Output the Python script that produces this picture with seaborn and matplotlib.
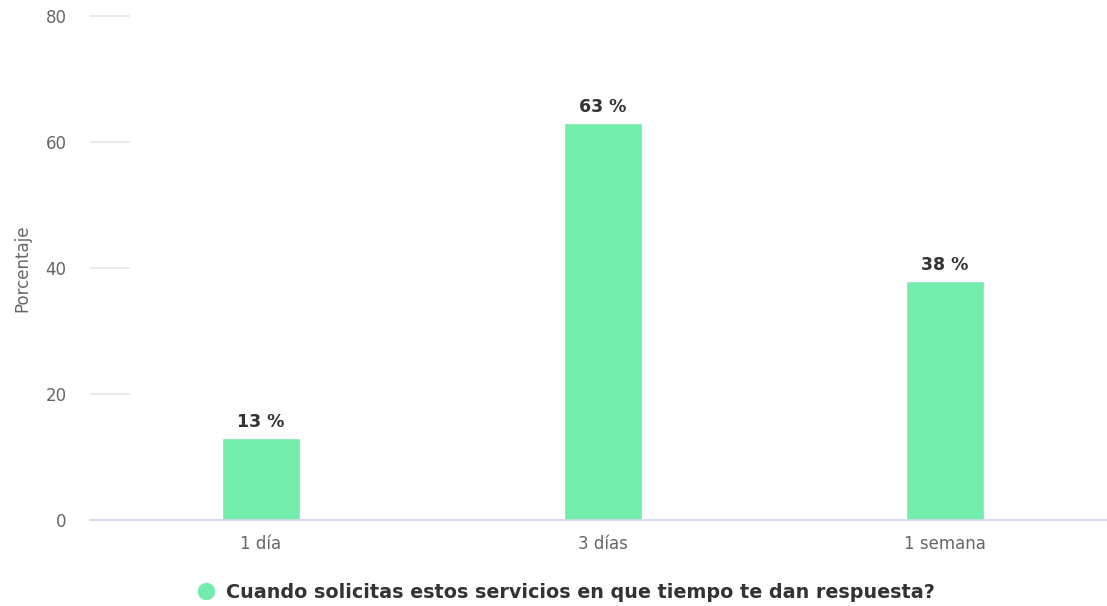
import matplotlib
matplotlib.use("Agg")
import matplotlib.pyplot as plt
from matplotlib.lines import Line2D
import seaborn as sns
import pandas as pd

categories = ["1 día", "3 días", "1 semana"]
percentages = [13, 63, 38]
y_ticks = [0, 20, 40, 60, 80]
series_name = "Cuando solicitas estos servicios en que tiempo te dan respuesta?"

BAR_COLOR = "#72EDAB"

sns.set_theme(style="white")
plt.rcParams["font.family"] = ["DejaVu Sans"]

W, H = 1107, 606
fig = plt.figure(figsize=(W / 100, H / 100), dpi=100)
left, right, bottom, top = 90, 1107, 520, 16
ax = fig.add_axes([left / W, 1 - bottom / H, (right - left) / W, (bottom - top) / H])

df = pd.DataFrame({"cat": categories, "pct": percentages})
sns.barplot(data=df, x="cat", y="pct", color=BAR_COLOR, saturation=1,
            width=0.228, ax=ax, errorbar=None)

ax.set_ylim(0, 80)
ax.set_xlim(-0.5, 2.5 - 9 / 342)
ax.set_yticks(y_ticks)

# short grid stubs beside the value axis
ax.hlines(y_ticks[1:], 0, 40 / (right - left), transform=ax.get_yaxis_transform(),
          color="#e6e6e6", lw=1.2, clip_on=False)

for s in ["top", "right", "left"]:
    ax.spines[s].set_visible(False)
ax.spines["bottom"].set_color("#ccd6eb")
ax.spines["bottom"].set_linewidth(1.2)

ax.tick_params(axis="y", length=0, pad=17, labelsize=12, labelcolor="#666666")
ax.tick_params(axis="x", length=0, pad=11, labelsize=12, labelcolor="#666666")
ax.set_xlabel("")
ax.set_ylabel("Porcentaje", fontsize=12, color="#666666", labelpad=10)

for i, v in enumerate(percentages):
    ax.annotate(f"{v} %", xy=(i, v), xytext=(0, 5), textcoords="offset points",
                ha="center", va="bottom", fontsize=12.5, fontweight="bold", color="#333333")

handle = Line2D([], [], marker="o", linestyle="none", markersize=11.5,
                markerfacecolor=BAR_COLOR, markeredgecolor=BAR_COLOR)
fig.legend([handle], [series_name], loc="center", bbox_to_anchor=(566 / W, 1 - 592 / H),
           frameon=False, handletextpad=0.55, handlelength=1.0,
           prop={"weight": "bold", "size": 13.75}, labelcolor="#333333")

fig.savefig("out.png", dpi=100)
